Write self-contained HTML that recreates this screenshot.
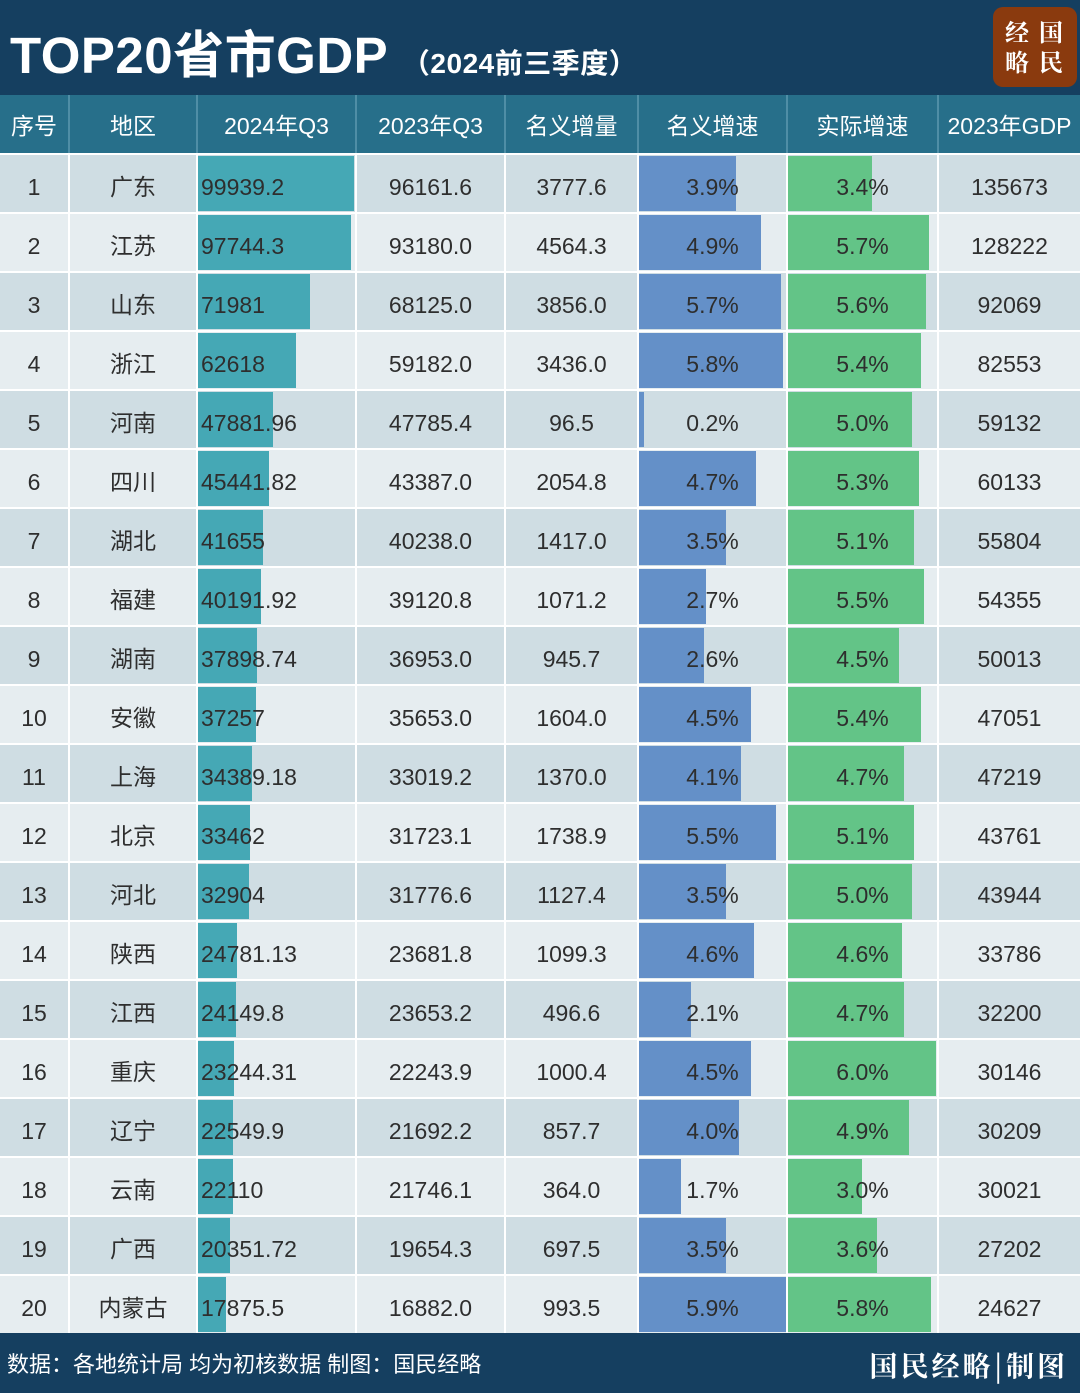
<!DOCTYPE html>
<html><head><meta charset="utf-8">
<style>
*{margin:0;padding:0;box-sizing:border-box}
body{width:1080px;height:1393px;background:#fff;position:relative;overflow:hidden;font-family:"Liberation Sans","Noto Sans CJK SC",sans-serif;color:#333}
.top{position:absolute;left:0;top:0;width:1080px;height:95px;background:#153f60}
.title{position:absolute;left:10px;top:14px;color:#fff;font-size:51px;font-weight:bold;letter-spacing:0.5px}
.title small{font-size:28px}
.logo{position:absolute;left:993px;top:7px;width:84px;height:80px;background:#8a3a0e;border-radius:10px;color:#fff;font-family:"Noto Serif CJK SC",serif;font-size:24px;font-weight:bold;line-height:30px;padding:9px 0 0 12px;letter-spacing:10px}
.hd{position:absolute;left:0;top:95px;width:1080px;height:58px;background:#276f8a}
.hd div{position:absolute;top:0;height:58px;line-height:62px;text-align:center;color:#fff;font-size:23px;border-left:2px solid #4f8ea6}
.hd div:first-child{border-left:none}
.r{position:absolute;left:0;width:1080px;height:59px;border-top:2px solid #fff}
.o{background:#cfdde3}.e{background:#e6edf0}
.c{position:absolute;top:0;height:57px;line-height:64px;text-align:center;font-size:23px;border-left:2px solid #fff;color:#2e2e2e}
.c0{left:0;width:68px;border-left:none}.c1{left:68px;width:128px}.c2{left:196px;width:159px;text-align:left;padding-left:1px}
.c3{left:355px;width:149px}.c4{left:504px;width:133px}.c5{left:637px;width:149px}.c6{left:786px;width:151px}.c7{left:937px;width:143px}
.b{position:absolute;left:0;top:1px;height:55px}
.t{background:#45a8b5}.bl{background:#6490c8}.g{background:#63c487}
.c span{position:relative}
.c2 span{padding-left:2px}
.ft{position:absolute;left:0;top:1333px;width:1080px;height:60px;background:#153f60;color:#fff}
.ft .l{position:absolute;left:7px;top:14px;font-size:22px}
.ft .rr{position:absolute;right:12px;top:12px;font-size:28px;font-weight:bold;font-family:"Noto Serif CJK SC",serif;letter-spacing:3px}
</style></head><body>
<div class="top"><div class="title">TOP20省市GDP <small>（2024前三季度）</small></div>
<div class="logo">经国<br>略民</div></div>
<div class="hd"><div style="left:0;width:68px">序号</div><div style="left:68px;width:128px">地区</div><div style="left:196px;width:159px">2024年Q3</div><div style="left:355px;width:149px">2023年Q3</div><div style="left:504px;width:133px">名义增量</div><div style="left:637px;width:149px">名义增速</div><div style="left:786px;width:151px">实际增速</div><div style="left:937px;width:143px">2023年GDP</div></div>

<div class="r o" style="top:153px"><div class="c c0">1</div><div class="c c1">广东</div><div class="c c2"><div class="b t" style="width:156px"></div><span>99939.2</span></div><div class="c c3">96161.6</div><div class="c c4">3777.6</div><div class="c c5"><div class="b bl" style="width:97px"></div><span>3.9%</span></div><div class="c c6"><div class="b g" style="width:84px"></div><span>3.4%</span></div><div class="c c7">135673</div></div>
<div class="r e" style="top:212px"><div class="c c0">2</div><div class="c c1">江苏</div><div class="c c2"><div class="b t" style="width:153px"></div><span>97744.3</span></div><div class="c c3">93180.0</div><div class="c c4">4564.3</div><div class="c c5"><div class="b bl" style="width:122px"></div><span>4.9%</span></div><div class="c c6"><div class="b g" style="width:141px"></div><span>5.7%</span></div><div class="c c7">128222</div></div>
<div class="r o" style="top:271px"><div class="c c0">3</div><div class="c c1">山东</div><div class="c c2"><div class="b t" style="width:112px"></div><span>71981</span></div><div class="c c3">68125.0</div><div class="c c4">3856.0</div><div class="c c5"><div class="b bl" style="width:142px"></div><span>5.7%</span></div><div class="c c6"><div class="b g" style="width:138px"></div><span>5.6%</span></div><div class="c c7">92069</div></div>
<div class="r e" style="top:330px"><div class="c c0">4</div><div class="c c1">浙江</div><div class="c c2"><div class="b t" style="width:98px"></div><span>62618</span></div><div class="c c3">59182.0</div><div class="c c4">3436.0</div><div class="c c5"><div class="b bl" style="width:144px"></div><span>5.8%</span></div><div class="c c6"><div class="b g" style="width:133px"></div><span>5.4%</span></div><div class="c c7">82553</div></div>
<div class="r o" style="top:389px"><div class="c c0">5</div><div class="c c1">河南</div><div class="c c2"><div class="b t" style="width:75px"></div><span>47881.96</span></div><div class="c c3">47785.4</div><div class="c c4">96.5</div><div class="c c5"><div class="b bl" style="width:5px"></div><span>0.2%</span></div><div class="c c6"><div class="b g" style="width:124px"></div><span>5.0%</span></div><div class="c c7">59132</div></div>
<div class="r e" style="top:448px"><div class="c c0">6</div><div class="c c1">四川</div><div class="c c2"><div class="b t" style="width:71px"></div><span>45441.82</span></div><div class="c c3">43387.0</div><div class="c c4">2054.8</div><div class="c c5"><div class="b bl" style="width:117px"></div><span>4.7%</span></div><div class="c c6"><div class="b g" style="width:131px"></div><span>5.3%</span></div><div class="c c7">60133</div></div>
<div class="r o" style="top:507px"><div class="c c0">7</div><div class="c c1">湖北</div><div class="c c2"><div class="b t" style="width:65px"></div><span>41655</span></div><div class="c c3">40238.0</div><div class="c c4">1417.0</div><div class="c c5"><div class="b bl" style="width:87px"></div><span>3.5%</span></div><div class="c c6"><div class="b g" style="width:126px"></div><span>5.1%</span></div><div class="c c7">55804</div></div>
<div class="r e" style="top:566px"><div class="c c0">8</div><div class="c c1">福建</div><div class="c c2"><div class="b t" style="width:63px"></div><span>40191.92</span></div><div class="c c3">39120.8</div><div class="c c4">1071.2</div><div class="c c5"><div class="b bl" style="width:67px"></div><span>2.7%</span></div><div class="c c6"><div class="b g" style="width:136px"></div><span>5.5%</span></div><div class="c c7">54355</div></div>
<div class="r o" style="top:625px"><div class="c c0">9</div><div class="c c1">湖南</div><div class="c c2"><div class="b t" style="width:59px"></div><span>37898.74</span></div><div class="c c3">36953.0</div><div class="c c4">945.7</div><div class="c c5"><div class="b bl" style="width:65px"></div><span>2.6%</span></div><div class="c c6"><div class="b g" style="width:111px"></div><span>4.5%</span></div><div class="c c7">50013</div></div>
<div class="r e" style="top:684px"><div class="c c0">10</div><div class="c c1">安徽</div><div class="c c2"><div class="b t" style="width:58px"></div><span>37257</span></div><div class="c c3">35653.0</div><div class="c c4">1604.0</div><div class="c c5"><div class="b bl" style="width:112px"></div><span>4.5%</span></div><div class="c c6"><div class="b g" style="width:133px"></div><span>5.4%</span></div><div class="c c7">47051</div></div>
<div class="r o" style="top:743px"><div class="c c0">11</div><div class="c c1">上海</div><div class="c c2"><div class="b t" style="width:54px"></div><span>34389.18</span></div><div class="c c3">33019.2</div><div class="c c4">1370.0</div><div class="c c5"><div class="b bl" style="width:102px"></div><span>4.1%</span></div><div class="c c6"><div class="b g" style="width:116px"></div><span>4.7%</span></div><div class="c c7">47219</div></div>
<div class="r e" style="top:802px"><div class="c c0">12</div><div class="c c1">北京</div><div class="c c2"><div class="b t" style="width:52px"></div><span>33462</span></div><div class="c c3">31723.1</div><div class="c c4">1738.9</div><div class="c c5"><div class="b bl" style="width:137px"></div><span>5.5%</span></div><div class="c c6"><div class="b g" style="width:126px"></div><span>5.1%</span></div><div class="c c7">43761</div></div>
<div class="r o" style="top:861px"><div class="c c0">13</div><div class="c c1">河北</div><div class="c c2"><div class="b t" style="width:51px"></div><span>32904</span></div><div class="c c3">31776.6</div><div class="c c4">1127.4</div><div class="c c5"><div class="b bl" style="width:87px"></div><span>3.5%</span></div><div class="c c6"><div class="b g" style="width:124px"></div><span>5.0%</span></div><div class="c c7">43944</div></div>
<div class="r e" style="top:920px"><div class="c c0">14</div><div class="c c1">陕西</div><div class="c c2"><div class="b t" style="width:39px"></div><span>24781.13</span></div><div class="c c3">23681.8</div><div class="c c4">1099.3</div><div class="c c5"><div class="b bl" style="width:115px"></div><span>4.6%</span></div><div class="c c6"><div class="b g" style="width:114px"></div><span>4.6%</span></div><div class="c c7">33786</div></div>
<div class="r o" style="top:979px"><div class="c c0">15</div><div class="c c1">江西</div><div class="c c2"><div class="b t" style="width:38px"></div><span>24149.8</span></div><div class="c c3">23653.2</div><div class="c c4">496.6</div><div class="c c5"><div class="b bl" style="width:52px"></div><span>2.1%</span></div><div class="c c6"><div class="b g" style="width:116px"></div><span>4.7%</span></div><div class="c c7">32200</div></div>
<div class="r e" style="top:1038px"><div class="c c0">16</div><div class="c c1">重庆</div><div class="c c2"><div class="b t" style="width:36px"></div><span>23244.31</span></div><div class="c c3">22243.9</div><div class="c c4">1000.4</div><div class="c c5"><div class="b bl" style="width:112px"></div><span>4.5%</span></div><div class="c c6"><div class="b g" style="width:148px"></div><span>6.0%</span></div><div class="c c7">30146</div></div>
<div class="r o" style="top:1097px"><div class="c c0">17</div><div class="c c1">辽宁</div><div class="c c2"><div class="b t" style="width:35px"></div><span>22549.9</span></div><div class="c c3">21692.2</div><div class="c c4">857.7</div><div class="c c5"><div class="b bl" style="width:100px"></div><span>4.0%</span></div><div class="c c6"><div class="b g" style="width:121px"></div><span>4.9%</span></div><div class="c c7">30209</div></div>
<div class="r e" style="top:1156px"><div class="c c0">18</div><div class="c c1">云南</div><div class="c c2"><div class="b t" style="width:35px"></div><span>22110</span></div><div class="c c3">21746.1</div><div class="c c4">364.0</div><div class="c c5"><div class="b bl" style="width:42px"></div><span>1.7%</span></div><div class="c c6"><div class="b g" style="width:74px"></div><span>3.0%</span></div><div class="c c7">30021</div></div>
<div class="r o" style="top:1215px"><div class="c c0">19</div><div class="c c1">广西</div><div class="c c2"><div class="b t" style="width:32px"></div><span>20351.72</span></div><div class="c c3">19654.3</div><div class="c c4">697.5</div><div class="c c5"><div class="b bl" style="width:87px"></div><span>3.5%</span></div><div class="c c6"><div class="b g" style="width:89px"></div><span>3.6%</span></div><div class="c c7">27202</div></div>
<div class="r e" style="top:1274px"><div class="c c0">20</div><div class="c c1">内蒙古</div><div class="c c2"><div class="b t" style="width:28px"></div><span>17875.5</span></div><div class="c c3">16882.0</div><div class="c c4">993.5</div><div class="c c5"><div class="b bl" style="width:147px"></div><span>5.9%</span></div><div class="c c6"><div class="b g" style="width:143px"></div><span>5.8%</span></div><div class="c c7">24627</div></div>

<div class="ft"><div class="l">数据：各地统计局 均为初核数据 制图：国民经略</div><div class="rr">国民经略|制图</div></div>
</body></html>
